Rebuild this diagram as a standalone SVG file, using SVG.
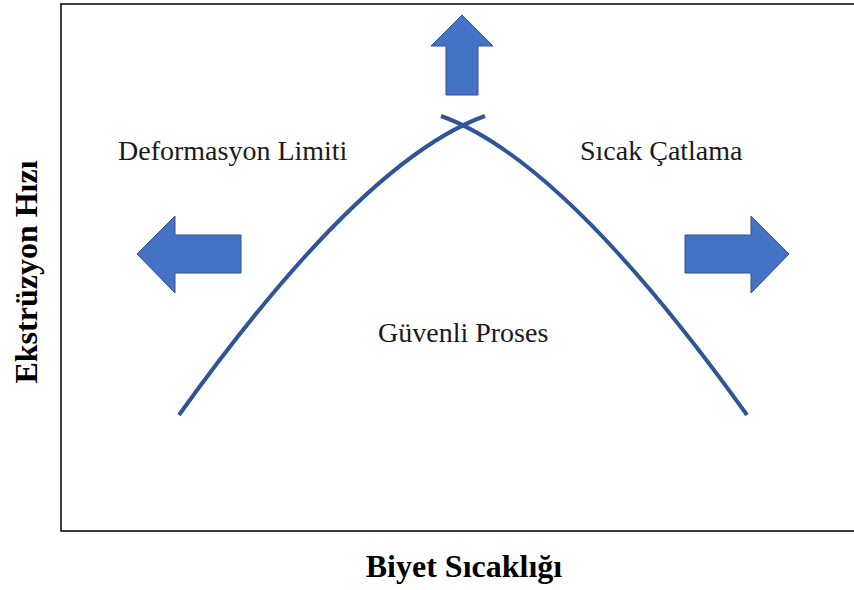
<svg xmlns="http://www.w3.org/2000/svg" width="854" height="590" viewBox="0 0 854 590">
<style>
.lbl{font-family:"Liberation Serif","Times New Roman",serif;font-size:28px;fill:#1a1a1a}
.ax{font-family:"Liberation Serif","Times New Roman",serif;font-size:32px;font-weight:bold;fill:#000}
.arr{fill:#4472C4;stroke:#2F528F;stroke-width:1}
.crv{fill:none;stroke:#2F5597;stroke-width:4}
</style>
<rect x="0" y="0" width="854" height="590" fill="#fff"/>
<rect id="frame" x="61" y="4" width="800" height="527" fill="none" stroke="#000" stroke-width="1.5"/>
<g id="connectors">
<path class="crv" d="M179,415 Q362,160 485,116"/>
<path class="crv" d="M441,116 Q564,160 747,415"/>
</g>
<g id="arrow-up"><polygon class="arr" points="462,15 493,46 478,46 478,95 446,95 446,46 431,46"/></g>
<g id="arrow-left"><polygon class="arr" points="137,254 175,216 175,235 241,235 241,273 175,273 175,293"/></g>
<g id="arrow-right"><polygon class="arr" points="789,254 751,216 751,235 685,235 685,273 751,273 751,293"/></g>
<g id="deformasyon"><text class="lbl" x="118" y="160">Deformasyon Limiti</text></g>
<g id="sicak"><text class="lbl" x="580" y="160">Sıcak Çatlama</text></g>
<g id="guvenli"><text class="lbl" x="378" y="342">Güvenli Proses</text></g>
<g id="xlabel"><text class="ax" x="464" y="577" text-anchor="middle">Biyet Sıcaklığı</text></g>
<g id="ylabel"><text class="ax" transform="translate(37,272) rotate(-90)" text-anchor="middle">Ekstrüzyon Hızı</text></g>
</svg>
